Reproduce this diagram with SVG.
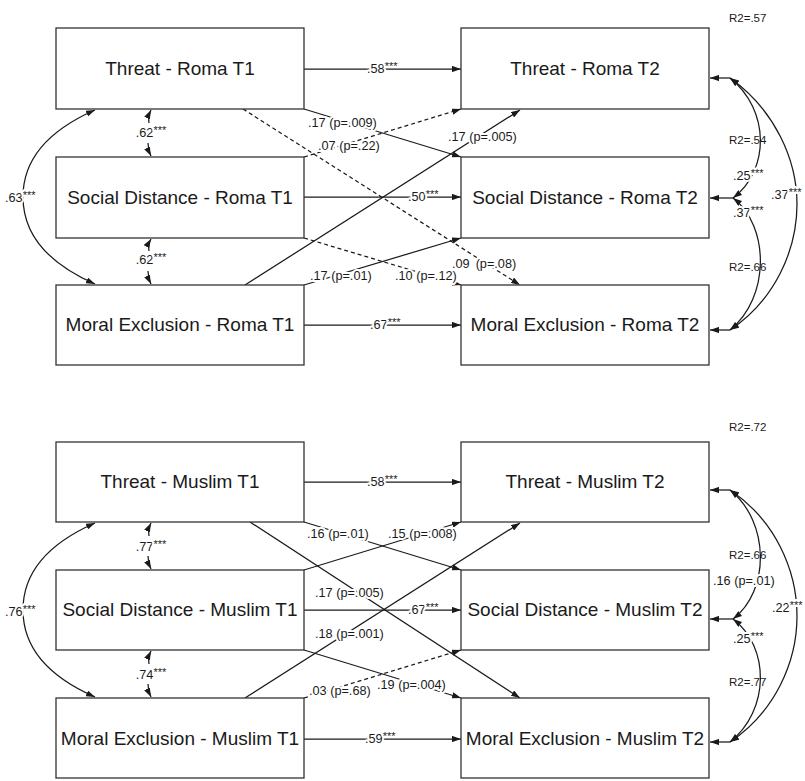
<svg xmlns="http://www.w3.org/2000/svg" width="805" height="781" viewBox="0 0 805 781">
<defs>
<style>
.box{fill:#fff;stroke:#333;stroke-width:1.3}
.nt{font-family:"Liberation Sans",Arial,sans-serif;font-size:19px;fill:#1a1a1a;text-anchor:middle}
.r2{font-family:"Liberation Sans",Arial,sans-serif;font-size:11.5px;fill:#1a1a1a}
.ln{fill:none;stroke:#1a1a1a;stroke-width:1.25}
.dash{stroke-dasharray:4 3}
.lbl{font-family:"Liberation Sans",Arial,sans-serif;font-size:12.7px;fill:#1a1a1a;stroke:#fff;stroke-width:4;stroke-linejoin:round;paint-order:stroke}
.mid{text-anchor:middle}
.st{font-size:11px}
</style>
<marker id="ah" viewBox="0 0 10 7" refX="10" refY="3.5" markerWidth="9" markerHeight="6.3" markerUnits="userSpaceOnUse" orient="auto-start-reverse">
<path d="M0,0 L10,3.5 L0,7 z" fill="#1a1a1a"/>
</marker>
</defs>
<rect width="805" height="781" fill="#fff"/>

<g id="connectors">
<!-- Roma horizontal -->
<path class="ln" d="M304,69 H461" marker-end="url(#ah)"/>
<path class="ln" d="M304,197 H461" marker-end="url(#ah)"/>
<path class="ln" d="M304,325 H461" marker-end="url(#ah)"/>
<!-- Roma cross -->
<path class="ln" d="M304,109 L461,157" marker-end="url(#ah)"/>
<path class="ln dash" d="M304,157 L461,109" marker-end="url(#ah)"/>
<path class="ln" d="M245,285 L520,110" marker-end="url(#ah)"/>
<path class="ln dash" d="M243,109 L520,285" marker-end="url(#ah)"/>
<path class="ln dash" d="M304,238 L461,285" marker-end="url(#ah)"/>
<path class="ln" d="M304,285 L461,238" marker-end="url(#ah)"/>
<!-- Roma left covariances -->
<path class="ln" d="M149,123 Q148,116 151,110" marker-end="url(#ah)"/>
<path class="ln" d="M148,143 Q148,150 151,156" marker-end="url(#ah)"/>
<path class="ln" d="M149,251 Q148,244 151,239" marker-end="url(#ah)"/>
<path class="ln" d="M148,271 Q148,278 151,284" marker-end="url(#ah)"/>
<path class="ln" d="M95,110 C45,132 23,162 23,197 C23,232 45,262 95,284" marker-start="url(#ah)" marker-end="url(#ah)"/>
<!-- Roma right covariances -->
<path class="ln" d="M730,78 H710" marker-end="url(#ah)"/>
<path class="ln" d="M733,198 H710" marker-end="url(#ah)"/>
<path class="ln" d="M730,330 H710" marker-end="url(#ah)"/>
<path class="ln" d="M730,78 C770,110 770,170 733,198" marker-start="url(#ah)" marker-end="url(#ah)"/>
<path class="ln" d="M733,198 C770,226 770,298 730,330" marker-start="url(#ah)" marker-end="url(#ah)"/>
<path class="ln" d="M730,78 C775,110 797,160 797,204 C797,250 775,300 730,330" marker-start="url(#ah)" marker-end="url(#ah)"/>

<!-- Muslim horizontal -->
<path class="ln" d="M304,482 H461" marker-end="url(#ah)"/>
<path class="ln" d="M304,610 H461" marker-end="url(#ah)"/>
<path class="ln" d="M304,739 H461" marker-end="url(#ah)"/>
<!-- Muslim cross -->
<path class="ln" d="M304,522 L461,570" marker-end="url(#ah)"/>
<path class="ln" d="M304,570 L461,522" marker-end="url(#ah)"/>
<path class="ln" d="M250,522 L520,698" marker-end="url(#ah)"/>
<path class="ln" d="M245,698 L520,523" marker-end="url(#ah)"/>
<path class="ln" d="M304,650 L461,698" marker-end="url(#ah)"/>
<path class="ln dash" d="M304,698 L461,650" marker-end="url(#ah)"/>
<!-- Muslim left covariances -->
<path class="ln" d="M149,536 Q148,529 151,523" marker-end="url(#ah)"/>
<path class="ln" d="M148,556 Q148,563 151,569" marker-end="url(#ah)"/>
<path class="ln" d="M149,664 Q148,657 151,651" marker-end="url(#ah)"/>
<path class="ln" d="M148,684 Q148,691 151,697" marker-end="url(#ah)"/>
<path class="ln" d="M95,523 C45,545 23,575 23,610 C23,645 45,675 95,697" marker-start="url(#ah)" marker-end="url(#ah)"/>
<!-- Muslim right covariances -->
<path class="ln" d="M730,490 H710" marker-end="url(#ah)"/>
<path class="ln" d="M733,619 H710" marker-end="url(#ah)"/>
<path class="ln" d="M730,742 H710" marker-end="url(#ah)"/>
<path class="ln" d="M730,490 C770,522 770,591 733,619" marker-start="url(#ah)" marker-end="url(#ah)"/>
<path class="ln" d="M733,619 C770,647 770,710 730,742" marker-start="url(#ah)" marker-end="url(#ah)"/>
<path class="ln" d="M730,490 C775,520 797,570 797,616 C797,662 775,712 730,742" marker-start="url(#ah)" marker-end="url(#ah)"/>

<!-- labels Roma -->
<text class="lbl" x="367" y="73">.58<tspan class="st" dy="-3">***</tspan></text>
<text class="lbl" x="408" y="201">.50<tspan class="st" dy="-3">***</tspan></text>
<text class="lbl" x="370" y="329">.67<tspan class="st" dy="-3">***</tspan></text>
<text class="lbl" x="308" y="126.5">.17 (p=.009)</text>
<text class="lbl" x="318" y="149.5">.07 (p=.22)</text>
<text class="lbl" x="448" y="140.5">.17 (p=.005)</text>
<text class="lbl" x="452" y="267.5">.09<tspan dx="6">(p=.08)</tspan></text>
<text class="lbl" x="395" y="279.5">.10 (p=.12)</text>
<text class="lbl" x="310" y="279.5">.17 (p=.01)</text>
<text class="lbl mid" x="151" y="137">.62<tspan class="st" dy="-3">***</tspan></text>
<text class="lbl mid" x="151" y="264">.62<tspan class="st" dy="-3">***</tspan></text>
<text class="lbl" x="5" y="202">.63<tspan class="st" dy="-3">***</tspan></text>
<text class="lbl" x="733" y="179.5">.25<tspan class="st" dy="-3">***</tspan></text>
<text class="lbl" x="733" y="216.5">.37<tspan class="st" dy="-3">***</tspan></text>
<text class="lbl" x="771" y="199">.37<tspan class="st" dy="-3">***</tspan></text>

<!-- labels Muslim -->
<text class="lbl" x="367" y="486">.58<tspan class="st" dy="-3">***</tspan></text>
<text class="lbl" x="408" y="614">.67<tspan class="st" dy="-3">***</tspan></text>
<text class="lbl" x="365" y="743">.59<tspan class="st" dy="-3">***</tspan></text>
<text class="lbl" x="307" y="537.5">.16 (p=.01)</text>
<text class="lbl" x="388" y="537.5">.15 (p=.008)</text>
<text class="lbl" x="315" y="596.5">.17 (p=.005)</text>
<text class="lbl" x="315" y="637.5">.18 (p=.001)</text>
<text class="lbl" x="377" y="688.5">.19 (p=.004)</text>
<text class="lbl" x="309" y="694.5">.03 (p=.68)</text>
<text class="lbl mid" x="151" y="551">.77<tspan class="st" dy="-3">***</tspan></text>
<text class="lbl mid" x="151" y="679">.74<tspan class="st" dy="-3">***</tspan></text>
<text class="lbl" x="5" y="616">.76<tspan class="st" dy="-3">***</tspan></text>
<text class="lbl" x="713" y="584.5">.16 (p=.01)</text>
<text class="lbl" x="733" y="642.5">.25<tspan class="st" dy="-3">***</tspan></text>
<text class="lbl" x="772" y="612">.22<tspan class="st" dy="-3">***</tspan></text>
</g>

<g id="threat-roma-t1"><rect class="box" x="56" y="28" width="248" height="81"/><text class="nt" x="180" y="75">Threat - Roma T1</text></g>
<g id="social-roma-t1"><rect class="box" x="56" y="157" width="248" height="81"/><text class="nt" x="180" y="204">Social Distance - Roma T1</text></g>
<g id="moral-roma-t1"><rect class="box" x="56" y="285" width="248" height="80"/><text class="nt" x="180" y="331">Moral Exclusion - Roma T1</text></g>
<g id="threat-roma-t2"><rect class="box" x="461" y="28" width="248" height="81"/><text class="nt" x="585" y="75">Threat - Roma T2</text><text class="r2" x="729" y="22">R2=.57</text></g>
<g id="social-roma-t2"><rect class="box" x="461" y="157" width="248" height="81"/><text class="nt" x="585" y="204">Social Distance - Roma T2</text><text class="r2" x="729" y="144">R2=.54</text></g>
<g id="moral-roma-t2"><rect class="box" x="461" y="285" width="248" height="80"/><text class="nt" x="585" y="331">Moral Exclusion - Roma T2</text><text class="r2" x="729" y="271">R2=.66</text></g>

<g id="threat-muslim-t1"><rect class="box" x="56" y="442" width="248" height="80"/><text class="nt" x="180" y="488">Threat - Muslim T1</text></g>
<g id="social-muslim-t1"><rect class="box" x="56" y="570" width="248" height="80"/><text class="nt" x="180" y="616">Social Distance - Muslim T1</text></g>
<g id="moral-muslim-t1"><rect class="box" x="56" y="698" width="248" height="80"/><text class="nt" x="180" y="745">Moral Exclusion - Muslim T1</text></g>
<g id="threat-muslim-t2"><rect class="box" x="461" y="442" width="248" height="80"/><text class="nt" x="585" y="488">Threat - Muslim T2</text><text class="r2" x="729" y="431">R2=.72</text></g>
<g id="social-muslim-t2"><rect class="box" x="461" y="570" width="248" height="80"/><text class="nt" x="585" y="616">Social Distance - Muslim T2</text><text class="r2" x="729" y="559">R2=.66</text></g>
<g id="moral-muslim-t2"><rect class="box" x="461" y="698" width="248" height="80"/><text class="nt" x="585" y="745">Moral Exclusion - Muslim T2</text><text class="r2" x="729" y="686">R2=.77</text></g>
</svg>
